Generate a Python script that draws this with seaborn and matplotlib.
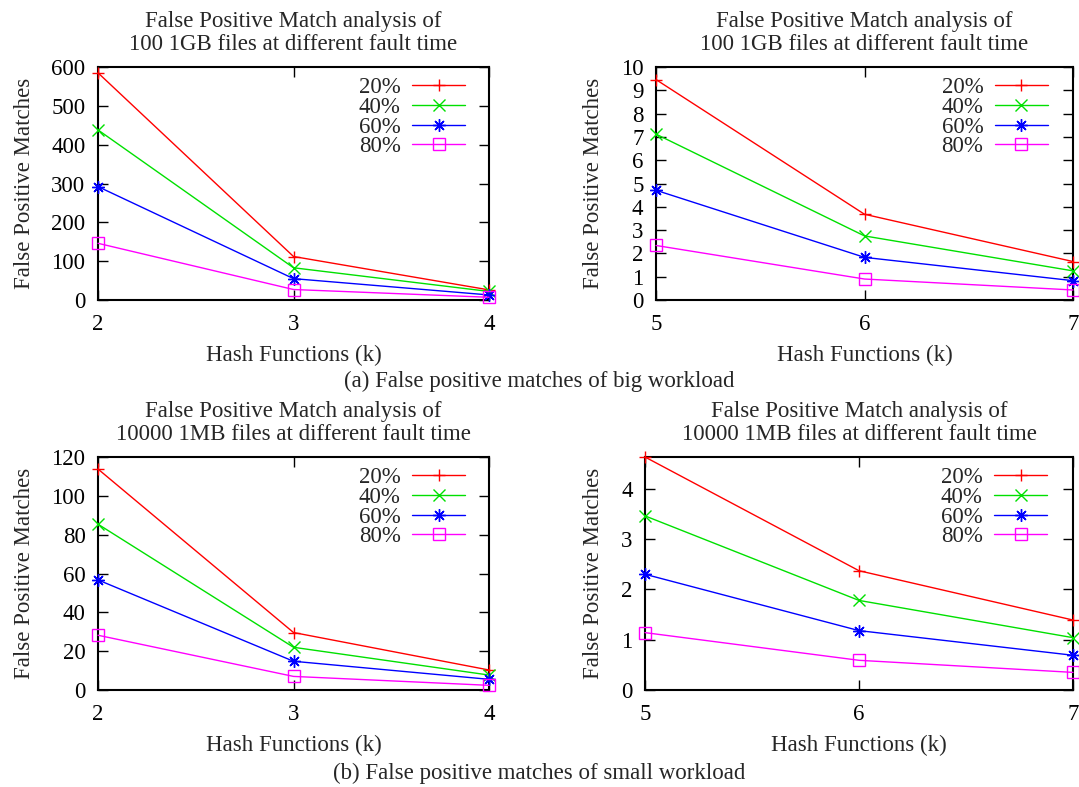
import matplotlib
matplotlib.use("Agg")
import matplotlib.pyplot as plt
import numpy as np
import pandas as pd
import seaborn as sns

# values
faults = ["20%", "40%", "60%", "80%"]
colors = ["#ff0000", "#00e000", "#0000ff", "#ff00ff"]
markers = ["+", "x", (8, 2, 0), "s"]

k_big_low = [2, 3, 4]
big_low = [[585, 112, 26], [438, 83, 22], [292, 55, 13], [146, 27, 7]]

k_big_high = [5, 6, 7]
big_high = [[9.46, 3.68, 1.65], [7.12, 2.75, 1.25], [4.71, 1.83, 0.83], [2.34, 0.90, 0.43]]

k_small_low = [2, 3, 4]
small_low = [[113.8, 29.6, 10.3], [85.4, 22.0, 7.7], [56.7, 14.8, 5.5], [28.2, 7.0, 2.4]]

k_small_high = [5, 6, 7]
small_high = [[4.63, 2.37, 1.39], [3.46, 1.78, 1.04], [2.30, 1.18, 0.69], [1.14, 0.59, 0.35]]

title_big = "False Positive Match analysis of\n100 1GB files at different fault time"
title_small = "False Positive Match analysis of\n10000 1MB files at different fault time"

sns.set_theme(style="ticks")
plt.rcParams['font.family'] = ['Liberation Serif', 'DejaVu Serif']
FS = 16.5

W, H = 1079, 787
fig = plt.figure(figsize=(W / 100, H / 100), dpi=100)


def px_axes(x0, y0, x1, y1):
    return fig.add_axes([x0 / W, 1 - y1 / H, (x1 - x0) / W, (y1 - y0) / H])


def panel(ax, ks, series, title, ylim, yticks):
    rows = []
    for name, vals in zip(faults, series):
        for k, v in zip(ks, vals):
            rows.append({"k": k, "fp": v, "fault": name})
    df = pd.DataFrame(rows)
    for name, c, m in zip(faults, colors, markers):
        sub = df[df.fault == name]
        sns.lineplot(data=sub, x="k", y="fp", ax=ax, color=c, marker=m,
                     markersize=9 if m != "s" else 8, markeredgewidth=1.0,
                     markerfacecolor="none" if m == "s" else c,
                     markeredgecolor=c, linewidth=1.0, label=name,
                     clip_on=False)
    ax.set_xlim(ks[0], ks[-1])
    ax.set_ylim(*ylim)
    ax.set_xticks(ks)
    ax.set_yticks(yticks)
    ax.tick_params(axis="both", direction="in", length=7, width=1.0,
                   labelsize=FS, colors="black")
    ax.tick_params(axis="y", right=True, pad=9)
    ax.tick_params(axis="x", top=True, pad=10)
    for s in ax.spines.values():
        s.set_linewidth(1.5)
        s.set_color("black")
        s.set_zorder(1)
    ax.set_xlabel("Hash Functions (k)", fontsize=FS, labelpad=7)
    ax.set_ylabel("False Positive Matches", fontsize=FS, labelpad=12)
    ax.set_title(title, fontsize=FS, pad=12, linespacing=1.15)
    ax.legend(loc="upper right", bbox_to_anchor=(0.95, 0.975), frameon=False,
              markerfirst=False, fontsize=FS, handlelength=2.3,
              labelspacing=-0.06, handletextpad=0.5, borderaxespad=0.0,
              borderpad=0.2)


ax1 = px_axes(98, 67, 489, 300)
panel(ax1, k_big_low, big_low, title_big, (0, 600), np.arange(0, 601, 100))

ax2 = px_axes(656, 67, 1073, 300)
panel(ax2, k_big_high, big_high, title_big, (0, 10), np.arange(0, 11, 1))

ax3 = px_axes(98, 457, 489, 690)
panel(ax3, k_small_low, small_low, title_small, (0, 120), np.arange(0, 121, 20))

ax4 = px_axes(645, 457, 1073, 690)
panel(ax4, k_small_high, small_high, title_small, (0, 4.63), np.arange(0, 5, 1))

fig.text(0.5, 1 - 381 / H, "(a) False positive matches of big workload",
         ha="center", va="center", fontsize=FS)
fig.text(0.5, 1 - 773 / H, "(b) False positive matches of small workload",
         ha="center", va="center", fontsize=FS)

fig.savefig("out.png", dpi=100)
